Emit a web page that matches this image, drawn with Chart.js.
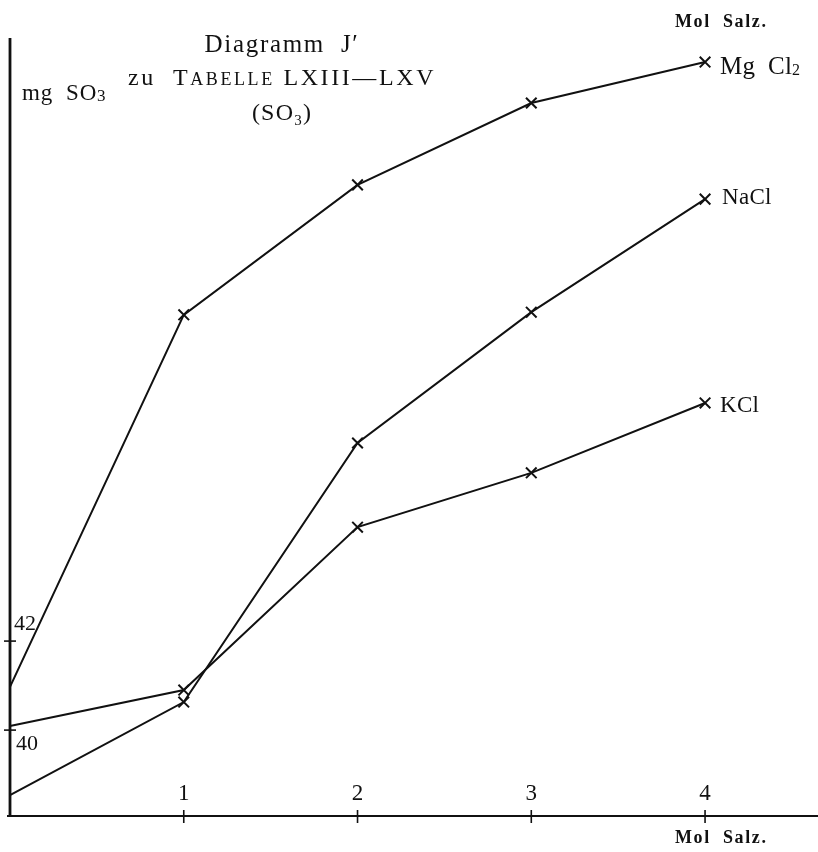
<!DOCTYPE html>
<html lang="de">
<head>
<meta charset="utf-8">
<title>Diagramm J'</title>
<script src="https://cdn.jsdelivr.net/npm/chart.js@4.4.1/dist/chart.umd.min.js"></script>
<style>
  html, body { margin: 0; padding: 0; background: #fff; }
  #wrap { position: relative; width: 818px; height: 852px; }
</style>
</head>
<body>
<div id="wrap"><canvas id="diagramm"></canvas></div>
<script>
// Werte (mg SO3 gegen Mol Salz)
const molSalz = [0, 1, 2, 3, 4];
const mgCl2 = [40.97, 49.33, 52.25, 54.09, 55.01];
const naCl = [38.54, 40.63, 46.45, 49.39, 51.93];
const kCl = [40.09, 40.90, 44.56, 45.78, 47.35];
const xTicks = [1, 2, 3, 4];
const yTicks = [40, 42];
const seriesNames = ['Mg Cl2', 'NaCl', 'KCl'];

const SERIF = "'Liberation Serif', 'Times New Roman', serif";

function toPoints(values) {
  return values.map((v, i) => ({ x: molSalz[i], y: v }));
}

// zeichnet Textstücke nacheinander (für Kapitälchen / Indizes)
function drawRuns(ctx, runs, x, y, align, spacing) {
  ctx.save();
  ctx.letterSpacing = (spacing || 0) + 'px';
  let total = 0;
  runs.forEach(r => {
    ctx.font = r.font;
    total += ctx.measureText(r.text).width;
  });
  let cx = align === 'center' ? x - total / 2 : x;
  ctx.textAlign = 'left';
  ctx.textBaseline = 'alphabetic';
  runs.forEach(r => {
    ctx.font = r.font;
    ctx.fillText(r.text, cx, y + (r.dy || 0));
    cx += ctx.measureText(r.text).width;
  });
  ctx.restore();
}

const axesPlugin = {
  id: 'axesPlugin',
  afterDraw(chart) {
    const ctx = chart.ctx;
    const xs = chart.scales.x;
    const ys = chart.scales.y;
    const area = chart.chartArea;
    const x0 = xs.getPixelForValue(0);
    const yBase = ys.getPixelForValue(ys.min);

    ctx.save();
    ctx.strokeStyle = '#111';
    ctx.fillStyle = '#111';

    // Achsen
    ctx.lineWidth = 2.8;
    ctx.beginPath();
    ctx.moveTo(x0, area.top);
    ctx.lineTo(x0, yBase);
    ctx.stroke();
    ctx.lineWidth = 2.2;
    ctx.beginPath();
    ctx.moveTo(x0 - 3, yBase);
    ctx.lineTo(area.right, yBase);
    ctx.stroke();

    // x-Striche und Zahlen
    ctx.lineWidth = 1.6;
    ctx.font = '23px ' + SERIF;
    ctx.textAlign = 'center';
    ctx.textBaseline = 'alphabetic';
    xTicks.forEach(t => {
      const px = xs.getPixelForValue(t);
      ctx.beginPath();
      ctx.moveTo(px, yBase - 6);
      ctx.lineTo(px, yBase + 7);
      ctx.stroke();
      ctx.fillText(String(t), px, yBase - 16);
    });

    // y-Striche und Zahlen
    ctx.textAlign = 'left';
    yTicks.forEach((t, i) => {
      const py = ys.getPixelForValue(t);
      ctx.beginPath();
      ctx.moveTo(x0 - 6, py);
      ctx.lineTo(x0 + 6, py);
      ctx.stroke();
      ctx.font = '22px ' + SERIF;
      const ly = i === 0 ? py + 20 : py - 11;
      ctx.fillText(String(t), x0 + (i === 0 ? 6 : 4), ly);
    });

    // Achsenbeschriftungen
    drawRuns(ctx, [{ text: 'Mol  Salz.', font: 'bold 18px ' + SERIF }], 675, 27, 'left', 1.6);
    drawRuns(ctx, [{ text: 'Mol  Salz.', font: 'bold 18px ' + SERIF }], 675, 843, 'left', 1.6);
    drawRuns(ctx, [
      { text: 'mg  SO', font: '23px ' + SERIF },
      { text: '3', font: '17px ' + SERIF, dy: 1 }
    ], 22, 100, 'left', 0.8);

    // Titel
    const tx = 282;
    drawRuns(ctx, [{ text: 'Diagramm  J\u2032', font: '25px ' + SERIF }], tx, 52, 'center', 1.7);
    drawRuns(ctx, [
      { text: 'zu  T', font: '24px ' + SERIF },
      { text: 'ABELLE', font: '18px ' + SERIF },
      { text: ' LXIII\u2014LXV', font: '24px ' + SERIF }
    ], tx, 85, 'center', 2.6);
    drawRuns(ctx, [
      { text: '(SO', font: '24px ' + SERIF },
      { text: '3', font: '15px ' + SERIF, dy: 5 },
      { text: ')', font: '24px ' + SERIF }
    ], tx, 120, 'center', 1.2);

    // Reihenbeschriftungen am Ende der Kurven
    const lastX = xs.getPixelForValue(molSalz[molSalz.length - 1]);
    drawRuns(ctx, [
      { text: 'Mg  Cl', font: '25px ' + SERIF },
      { text: '2', font: '16px ' + SERIF, dy: 1 }
    ], lastX + 15, ys.getPixelForValue(mgCl2[4]) + 12, 'left', 0.2);
    drawRuns(ctx, [{ text: 'NaCl', font: '23px ' + SERIF }],
      lastX + 17, ys.getPixelForValue(naCl[4]) + 5, 'left', 0.3);
    drawRuns(ctx, [{ text: 'KCl', font: '23px ' + SERIF }],
      lastX + 15, ys.getPixelForValue(kCl[4]) + 9, 'left', 0.3);

    ctx.restore();
  }
};

function lineSet(label, values) {
  return {
    label: label,
    data: toPoints(values),
    borderColor: '#111',
    backgroundColor: '#111',
    borderWidth: 2,
    tension: 0,
    pointStyle: 'crossRot',
    pointRadius: values.map((v, i) => (i === 0 ? 0 : 7.5)),
    pointBorderWidth: 2,
    pointBorderColor: '#111',
    clip: false
  };
}

new Chart(document.getElementById('diagramm'), {
  type: 'line',
  data: {
    datasets: [
      lineSet(seriesNames[0], mgCl2),
      lineSet(seriesNames[1], naCl),
      lineSet(seriesNames[2], kCl)
    ]
  },
  options: {
    responsive: true,
    maintainAspectRatio: false,
    animation: false,
    layout: { autoPadding: false, padding: { left: 10, top: 38, right: 0, bottom: 36 } },
    plugins: {
      legend: { display: false },
      title: { display: false },
      tooltip: { enabled: false }
    },
    scales: {
      x: { type: 'linear', display: false, min: 0, max: 4.65 },
      y: { type: 'linear', display: false, min: 38.07, max: 55.55 }
    }
  },
  plugins: [axesPlugin]
});
</script>
</body>
</html>
